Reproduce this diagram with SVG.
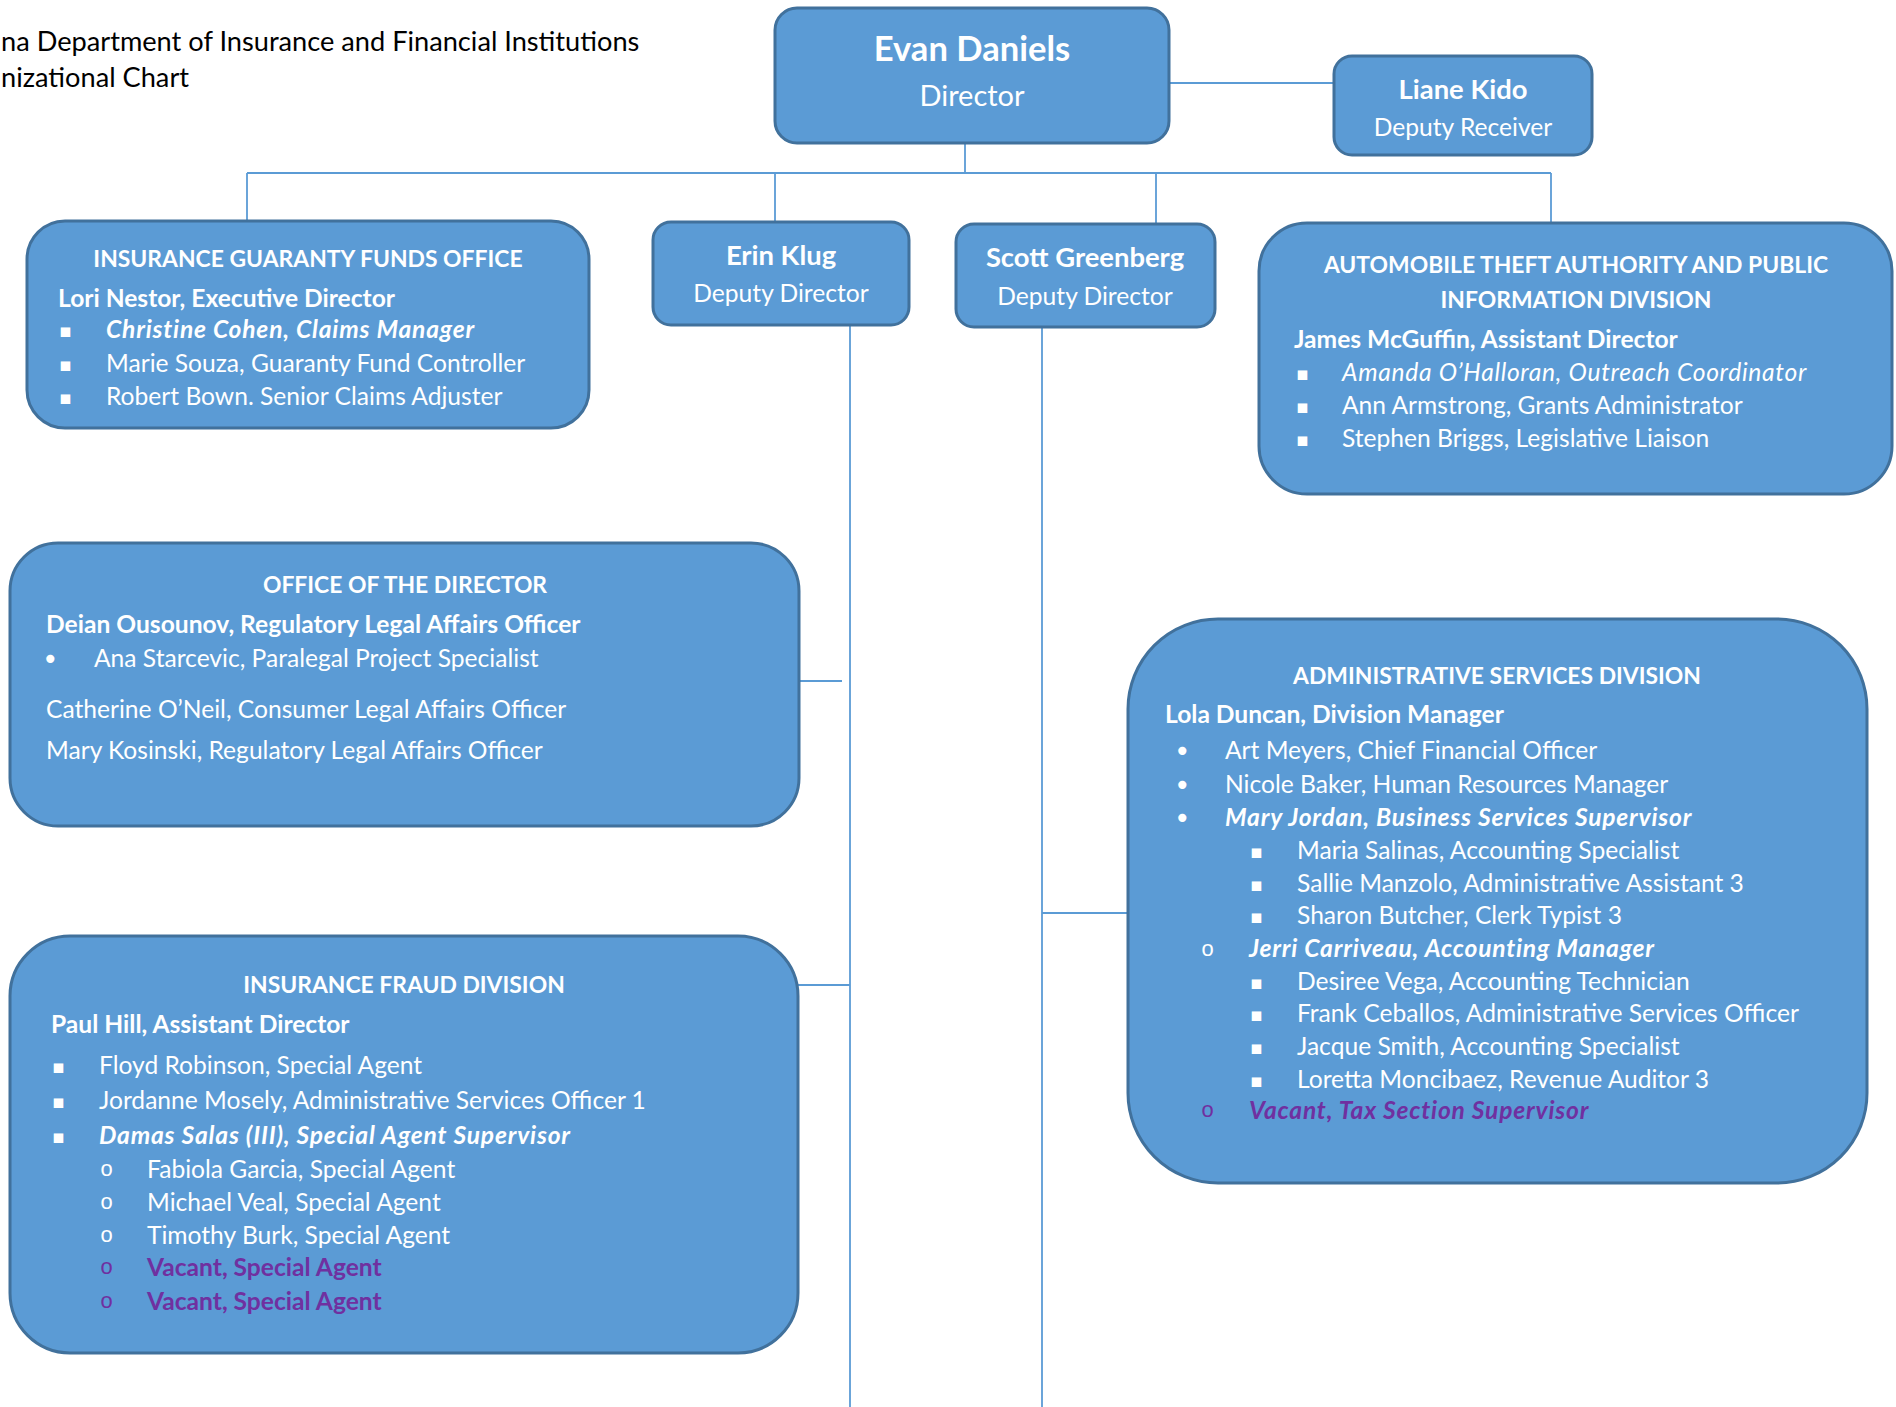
<svg xmlns="http://www.w3.org/2000/svg" width="1896" height="1407" viewBox="0 0 1896 1407">
<style>
.box{fill:#5B9BD5;stroke:#41719C;stroke-width:3}
.conn{stroke:#5B9BD5;stroke-width:1.8;fill:none}
text{font-family:Lato,"Liberation Sans",sans-serif;fill:#FFFFFF;font-size:24.6px}
.ttl{fill:#000000;font-size:27.2px}
.b{font-weight:bold}
.i{font-style:italic;letter-spacing:0.7px}
.b.i{letter-spacing:0.8px}
.hd{font-size:22.9px;font-weight:bold;text-anchor:middle}
.c{text-anchor:middle}
.nm{font-size:27.4px;font-weight:bold}
.sub{font-size:24.6px}
.big{font-size:34.6px;font-weight:bold}
.dir{font-size:29px}
.vac{fill:#7030A0}
.sq{font-family:"DejaVu Sans",sans-serif;font-size:19px}
.dot{font-family:"DejaVu Sans",sans-serif;font-size:28px}
.ring{font-family:"Liberation Mono",monospace;font-size:22px}
</style>
<rect width="1896" height="1407" fill="#FFFFFF"/>
<g id="title">
<text class="ttl" x="1" y="51">na Department of Insurance and Financial Institutions</text>
<text class="ttl" x="1" y="87">nizational Chart</text>
</g>
<g id="connectors">
<line class="conn" x1="1169" y1="83" x2="1334" y2="83"/>
<line class="conn" x1="965" y1="143" x2="965" y2="173"/>
<line class="conn" x1="247" y1="173" x2="1551" y2="173"/>
<line class="conn" x1="247" y1="173" x2="247" y2="221"/>
<line class="conn" x1="775" y1="173" x2="775" y2="222"/>
<line class="conn" x1="1156" y1="173" x2="1156" y2="224"/>
<line class="conn" x1="1551" y1="173" x2="1551" y2="224"/>
<line class="conn" x1="850" y1="325" x2="850" y2="1407"/>
<line class="conn" x1="1042" y1="327" x2="1042" y2="1407"/>
<line class="conn" x1="799" y1="681" x2="842" y2="681"/>
<line class="conn" x1="797" y1="985" x2="850" y2="985"/>
<line class="conn" x1="1042" y1="913" x2="1128" y2="913"/>
</g>
<g id="evan-daniels">
<rect class="box" x="775" y="8" width="394" height="135" rx="22"/>
<text class="big c" x="972" y="61">Evan Daniels</text>
<text class="dir c" x="972" y="106">Director</text>
</g>
<g id="liane-kido">
<rect class="box" x="1334" y="56" width="258" height="99" rx="18"/>
<text class="nm c" x="1463" y="99">Liane Kido</text>
<text class="sub c" x="1463" y="136">Deputy Receiver</text>
</g>
<g id="erin-klug">
<rect class="box" x="653" y="222" width="256" height="103" rx="18"/>
<text class="nm c" x="781" y="265">Erin Klug</text>
<text class="sub c" x="781" y="302">Deputy Director</text>
</g>
<g id="scott-greenberg">
<rect class="box" x="956" y="224" width="259" height="103" rx="18"/>
<text class="nm c" x="1085" y="267">Scott Greenberg</text>
<text class="sub c" x="1085" y="305">Deputy Director</text>
</g>
<g id="insurance-guaranty-funds-office">
<rect class="box" x="27" y="221" width="562" height="207" rx="38"/>
<text class="hd" x="308" y="267">INSURANCE GUARANTY FUNDS OFFICE</text>
<text class="b" x="58" y="307">Lori Nestor, Executive Director</text>
<text class="sq" x="59" y="337">▪</text>
<text class="b i" x="106" y="338">Christine Cohen, Claims Manager</text>
<text class="sq" x="59" y="371">▪</text>
<text x="106" y="372">Marie Souza, Guaranty Fund Controller</text>
<text class="sq" x="59" y="404">▪</text>
<text x="106" y="405">Robert Bown. Senior Claims Adjuster</text>
</g>
<g id="automobile-theft-authority">
<rect class="box" x="1259" y="223" width="633" height="271" rx="48"/>
<text class="hd" x="1576" y="273">AUTOMOBILE THEFT AUTHORITY AND PUBLIC</text>
<text class="hd" x="1576" y="308">INFORMATION DIVISION</text>
<text class="b" x="1294" y="348">James McGuffin, Assistant Director</text>
<text class="sq" x="1296" y="380">▪</text>
<text class="i" x="1342" y="381">Amanda O’Halloran, Outreach Coordinator</text>
<text class="sq" x="1296" y="413">▪</text>
<text x="1342" y="414">Ann Armstrong, Grants Administrator</text>
<text class="sq" x="1296" y="446">▪</text>
<text x="1342" y="447">Stephen Briggs, Legislative Liaison</text>
</g>
<g id="office-of-the-director">
<rect class="box" x="10" y="543" width="789" height="283" rx="48"/>
<text class="hd" x="405" y="593">OFFICE OF THE DIRECTOR</text>
<text class="b" x="46" y="633">Deian Ousounov, Regulatory Legal Affairs Officer</text>
<text class="dot" x="42" y="669">•</text>
<text x="94" y="667">Ana Starcevic, Paralegal Project Specialist</text>
<text x="46" y="718">Catherine O’Neil, Consumer Legal Affairs Officer</text>
<text x="46" y="759">Mary Kosinski, Regulatory Legal Affairs Officer</text>
</g>
<g id="insurance-fraud-division">
<rect class="box" x="10" y="936" width="788" height="417" rx="60"/>
<text class="hd" x="404" y="993">INSURANCE FRAUD DIVISION</text>
<text class="b" x="51" y="1033">Paul Hill, Assistant Director</text>
<text class="sq" x="52" y="1073">▪</text>
<text x="99" y="1074">Floyd Robinson, Special Agent</text>
<text class="sq" x="52" y="1108">▪</text>
<text x="99" y="1109">Jordanne Mosely, Administrative Services Officer 1</text>
<text class="sq" x="52" y="1143">▪</text>
<text class="b i" x="99" y="1144">Damas Salas (III), Special Agent Supervisor</text>
<text class="ring" x="100" y="1176">o</text>
<text x="147" y="1178">Fabiola Garcia, Special Agent</text>
<text class="ring" x="100" y="1209">o</text>
<text x="147" y="1211">Michael Veal, Special Agent</text>
<text class="ring" x="100" y="1242">o</text>
<text x="147" y="1244">Timothy Burk, Special Agent</text>
<text class="ring vac" x="100" y="1274">o</text>
<text class="b vac" x="147" y="1276">Vacant, Special Agent</text>
<text class="ring vac" x="100" y="1308">o</text>
<text class="b vac" x="147" y="1310">Vacant, Special Agent</text>
</g>
<g id="administrative-services-division">
<rect class="box" x="1128" y="619" width="739" height="564" rx="90"/>
<text class="hd" x="1497" y="684">ADMINISTRATIVE SERVICES DIVISION</text>
<text class="b" x="1165" y="723">Lola Duncan, Division Manager</text>
<text class="dot" x="1174" y="761">•</text>
<text x="1225" y="759">Art Meyers, Chief Financial Officer</text>
<text class="dot" x="1174" y="795">•</text>
<text x="1225" y="793">Nicole Baker, Human Resources Manager</text>
<text class="dot" x="1174" y="828">•</text>
<text class="b i" x="1225" y="826">Mary Jordan, Business Services Supervisor</text>
<text class="sq" x="1250" y="858">▪</text>
<text x="1297" y="859">Maria Salinas, Accounting Specialist</text>
<text class="sq" x="1250" y="891">▪</text>
<text x="1297" y="892">Sallie Manzolo, Administrative Assistant 3</text>
<text class="sq" x="1250" y="923">▪</text>
<text x="1297" y="924">Sharon Butcher, Clerk Typist 3</text>
<text class="ring" x="1201" y="956">o</text>
<text class="b i" x="1249" y="957">Jerri Carriveau, Accounting Manager</text>
<text class="sq" x="1250" y="989">▪</text>
<text x="1297" y="990">Desiree Vega, Accounting Technician</text>
<text class="sq" x="1250" y="1021">▪</text>
<text x="1297" y="1022">Frank Ceballos, Administrative Services Officer</text>
<text class="sq" x="1250" y="1054">▪</text>
<text x="1297" y="1055">Jacque Smith, Accounting Specialist</text>
<text class="sq" x="1250" y="1087">▪</text>
<text x="1297" y="1088">Loretta Moncibaez, Revenue Auditor 3</text>
<text class="ring vac" x="1201" y="1117">o</text>
<text class="b i vac" x="1249" y="1119">Vacant, Tax Section Supervisor</text>
</g>
</svg>
